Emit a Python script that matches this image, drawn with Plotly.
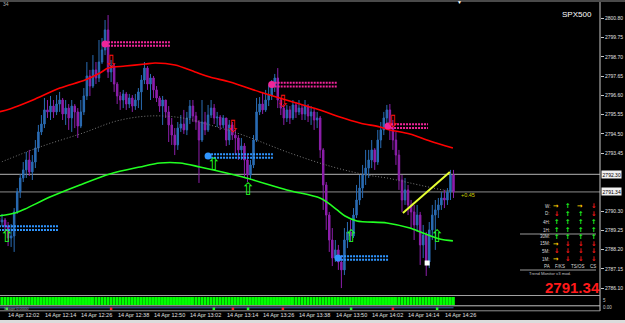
import plotly.graph_objects as go

W, H = 625, 323

# ---------------- data ----------------
bar_idx = list(range(151))  # 1-minute bars, 11:59 .. 14:29

tick_bars = [3, 15, 27, 39, 51, 63, 75, 87, 99, 111, 123, 135, 147]
tick_labels = ["14 Apr 12:02", "14 Apr 12:14", "14 Apr 12:26", "14 Apr 12:38", "14 Apr 12:50",
               "14 Apr 13:02", "14 Apr 13:14", "14 Apr 13:26", "14 Apr 13:38", "14 Apr 13:50",
               "14 Apr 14:02", "14 Apr 14:14", "14 Apr 14:26"]

ytick_vals = [2800.80, 2799.75, 2798.70, 2797.65, 2796.60, 2795.55, 2794.50, 2793.45,
              2790.30, 2789.25, 2788.20, 2787.15, 2786.10]

closes = [2789.70, 2789.81, 2789.48, 2788.83, 2788.94, 2790.25, 2791.34, 2792.10, 2792.54, 2793.08,
          2792.43, 2792.97, 2793.73, 2794.61, 2795.04, 2795.81, 2795.70, 2796.02, 2795.70, 2796.13,
          2796.35, 2795.59, 2795.91, 2795.37, 2796.02, 2795.70, 2794.93, 2795.70, 2796.57, 2797.66,
          2797.11, 2797.99, 2797.55, 2798.42, 2799.08, 2800.17, 2797.88, 2798.20, 2797.22, 2796.57,
          2796.35, 2796.68, 2796.13, 2796.46, 2796.02, 2796.35, 2796.79, 2797.44, 2798.09, 2797.22,
          2797.55, 2796.90, 2796.46, 2796.02, 2796.35, 2795.70, 2794.99, 2794.44, 2793.90, 2794.82,
          2795.04, 2794.72, 2795.37, 2796.02, 2795.48, 2795.15, 2794.17, 2795.15, 2794.72, 2795.53,
          2795.91, 2795.37, 2795.42, 2794.99, 2795.37, 2794.17, 2794.99, 2794.44, 2794.28, 2793.63,
          2793.84, 2793.08, 2792.26, 2792.81, 2794.17, 2795.70, 2796.13, 2795.81, 2796.35, 2796.62,
          2797.11, 2797.55, 2796.35, 2795.91, 2795.37, 2795.81, 2795.37, 2796.08, 2795.70, 2795.91,
          2795.59, 2796.02, 2795.48, 2795.70, 2795.26, 2795.37, 2793.63, 2791.72, 2790.08, 2788.72,
          2787.74, 2788.18, 2787.52, 2787.09, 2788.72, 2789.16, 2788.94, 2790.08, 2790.90, 2791.55,
          2792.26, 2792.64, 2793.08, 2793.63, 2792.97, 2794.17, 2794.72, 2795.37, 2795.81, 2794.82,
          2794.17, 2793.35, 2791.99, 2790.90, 2791.45, 2790.63, 2790.25, 2789.54, 2790.08, 2788.45,
          2788.99, 2787.52, 2789.27, 2790.08, 2790.36, 2790.63, 2791.01, 2790.90, 2791.34, 2792.26,
          2791.34]

opens = [2789.92, 2789.70, 2789.81, 2789.48, 2788.83, 2788.94, 2790.25, 2791.34, 2792.10, 2792.54,
         2793.08, 2792.43, 2792.97, 2793.73, 2794.61, 2795.04, 2795.81, 2795.70, 2796.02, 2795.70,
         2796.13, 2796.35, 2795.59, 2795.91, 2795.37, 2796.02, 2795.70, 2794.93, 2795.70, 2796.57,
         2797.66, 2797.11, 2797.99, 2797.55, 2798.42, 2799.08, 2800.17, 2797.88, 2798.20, 2797.22,
         2796.57, 2796.35, 2796.68, 2796.13, 2796.46, 2796.02, 2796.35, 2796.79, 2797.44, 2798.09,
         2797.22, 2797.55, 2796.90, 2796.46, 2796.02, 2796.35, 2795.70, 2794.99, 2794.44, 2793.90,
         2794.82, 2795.04, 2794.72, 2795.37, 2796.02, 2795.48, 2795.15, 2794.17, 2795.15, 2794.72,
         2795.53, 2795.91, 2795.37, 2795.42, 2794.99, 2795.37, 2794.17, 2794.99, 2794.44, 2794.28,
         2793.63, 2793.84, 2793.08, 2792.26, 2792.81, 2794.17, 2795.70, 2796.13, 2795.81, 2796.35,
         2796.62, 2797.11, 2797.55, 2796.35, 2795.91, 2795.37, 2795.81, 2795.37, 2796.08, 2795.70,
         2795.91, 2795.59, 2796.02, 2795.48, 2795.70, 2795.26, 2795.37, 2793.63, 2791.72, 2790.08,
         2788.72, 2787.74, 2788.18, 2787.52, 2787.09, 2788.72, 2789.16, 2788.94, 2790.08, 2790.90,
         2791.55, 2792.26, 2792.64, 2793.08, 2793.63, 2792.97, 2794.17, 2794.72, 2795.37, 2795.81,
         2794.82, 2794.17, 2793.35, 2791.99, 2790.90, 2791.45, 2790.63, 2790.25, 2789.54, 2790.08,
         2788.45, 2788.99, 2787.52, 2789.27, 2790.08, 2790.36, 2790.63, 2791.01, 2790.90, 2791.34,
         2792.26]

highs = [2790.03, 2790.14, 2789.92, 2789.70, 2789.59, 2790.46, 2791.55, 2792.32, 2792.97, 2793.52,
         2793.63, 2793.35, 2794.17, 2794.99, 2795.53, 2796.46, 2796.35, 2796.57, 2796.35, 2796.62,
         2796.79, 2796.46, 2796.35, 2796.13, 2796.35, 2796.13, 2795.91, 2796.35, 2797.00, 2798.42,
         2797.99, 2798.80, 2798.42, 2799.62, 2799.73, 2800.71, 2800.98, 2798.53, 2798.31, 2797.33,
         2796.79, 2796.90, 2796.79, 2796.68, 2796.62, 2796.68, 2797.00, 2797.71, 2798.42, 2798.20,
         2797.77, 2797.66, 2797.11, 2796.57, 2796.57, 2796.35, 2796.02, 2795.37, 2794.82, 2795.15,
         2795.53, 2795.81, 2795.70, 2796.35, 2796.35, 2795.70, 2795.26, 2796.35, 2795.70, 2796.08,
         2796.35, 2796.13, 2795.70, 2795.53, 2795.53, 2795.37, 2795.26, 2795.15, 2794.72, 2794.44,
         2794.28, 2794.00, 2793.35, 2793.08, 2794.44, 2796.46, 2796.51, 2796.79, 2796.90, 2797.17,
         2797.44, 2797.77, 2798.09, 2796.46, 2796.13, 2796.08, 2796.02, 2796.35, 2796.24, 2796.35,
         2796.13, 2796.35, 2796.13, 2796.02, 2795.91, 2795.70, 2795.48, 2793.73, 2791.88, 2790.25,
         2789.37, 2788.72, 2788.45, 2787.90, 2789.37, 2789.70, 2789.81, 2790.46, 2791.72, 2792.26,
         2792.81, 2793.63, 2793.63, 2794.17, 2793.73, 2794.72, 2795.15, 2795.70, 2796.08, 2796.13,
         2795.26, 2794.61, 2793.63, 2792.26, 2792.10, 2791.72, 2790.90, 2790.63, 2790.63, 2790.25,
         2789.54, 2789.16, 2789.70, 2790.63, 2790.90, 2791.01, 2791.34, 2791.45, 2791.55, 2792.54,
         2792.54]

lows = [2789.27, 2789.48, 2789.16, 2788.39, 2788.34, 2788.07, 2790.14, 2791.01, 2791.88, 2792.10,
        2792.21, 2791.99, 2792.64, 2793.52, 2794.44, 2794.82, 2795.37, 2795.26, 2795.37, 2795.53,
        2795.70, 2795.26, 2794.99, 2794.72, 2794.61, 2794.82, 2794.28, 2794.82, 2795.53, 2796.35,
        2796.57, 2797.00, 2797.22, 2797.33, 2798.31, 2798.80, 2797.55, 2797.33, 2796.79, 2796.13,
        2795.81, 2795.91, 2795.81, 2795.91, 2795.70, 2795.81, 2795.91, 2795.81, 2797.22, 2796.90,
        2796.35, 2796.46, 2796.24, 2795.70, 2794.99, 2795.37, 2794.06, 2793.90, 2793.35, 2793.63,
        2794.61, 2794.50, 2794.44, 2795.04, 2795.15, 2794.72, 2791.83, 2794.06, 2794.44, 2794.61,
        2795.37, 2795.04, 2794.88, 2794.72, 2794.82, 2793.84, 2793.90, 2794.17, 2793.35, 2793.08,
        2793.08, 2792.10, 2791.88, 2791.99, 2792.64, 2794.06, 2795.53, 2795.59, 2795.70, 2796.02,
        2796.35, 2796.79, 2795.91, 2795.53, 2794.99, 2795.15, 2795.04, 2795.26, 2795.37, 2795.53,
        2795.26, 2795.26, 2795.15, 2794.99, 2794.72, 2794.82, 2793.19, 2790.36, 2789.27, 2788.07,
        2787.30, 2787.52, 2787.09, 2786.10, 2786.81, 2788.28, 2788.61, 2788.83, 2789.92, 2790.63,
        2791.01, 2791.72, 2792.10, 2792.64, 2792.54, 2792.81, 2793.73, 2794.44, 2794.82, 2794.17,
        2793.63, 2792.81, 2791.45, 2790.25, 2790.63, 2790.08, 2789.37, 2788.72, 2789.16, 2787.36,
        2787.74, 2786.76, 2787.19, 2788.72, 2788.18, 2789.92, 2790.36, 2790.46, 2790.63, 2790.90,
        2791.01]

# moving averages (sampled points along the drawn curves)
red_ma_x = [0, 3.6, 11.2, 20.1, 28.4, 33.3, 36, 41.6, 48.2, 51.5, 58.1, 64.7, 69.6, 76.2, 86.1,
            93.7, 99.3, 105.9, 112.5, 119.1, 125.7, 129, 135.6, 142.2, 149.8]
red_ma_y = [2795.70, 2795.86, 2796.35, 2797.00, 2797.44, 2797.82, 2798.09, 2798.20, 2798.31, 2798.37,
            2798.26, 2797.88, 2797.60, 2797.33, 2796.79, 2796.40, 2796.13, 2795.81, 2795.42, 2795.10,
            2794.88, 2794.72, 2794.50, 2794.12, 2793.73]
green_ma_x = [0, 5.3, 8.6, 16.8, 26.7, 36.6, 46.5, 53.1, 59.7, 66.3, 80.5, 95, 105.9, 108.6, 111.6,
              114.2, 118.1, 128, 135.6, 139.9, 145.5, 149.8]
green_ma_y = [2790.03, 2790.19, 2790.41, 2791.06, 2791.72, 2792.32, 2792.70, 2792.92, 2792.92, 2792.70,
              2792.15, 2791.45, 2791.01, 2790.74, 2790.36, 2790.03, 2789.76, 2789.65, 2789.37, 2789.10,
              2788.77, 2788.67]
gray_ma_x = [0, 13.5, 27.7, 38.9, 49.8, 60.7, 69.6, 80.5, 96, 110.2, 121.5, 128, 135.6, 146.5, 149.8]
gray_ma_y = [2792.92, 2793.79, 2794.55, 2795.21, 2795.48, 2795.37, 2794.99, 2794.44, 2793.46, 2792.70,
             2792.26, 2792.10, 2791.83, 2791.45, 2791.39]

bid_price = 2791.34
level_price = 2792.30
trend_x = [133.3, 148.8]
trend_y = [2790.19, 2792.43]

red_arrow_x = [37, 77.2, 93.7, 130]
red_arrow_y = [2798.37, 2794.82, 2796.19, 2795.10]
green_arrow_x = [2.6, 70.9, 82.2, 116.2, 144.6]
green_arrow_y = [2788.83, 2792.75, 2791.39, 2788.83, 2788.83]

mag_start = [35, 90, 128.4]
mag_end = [56.4, 111.6, 141.6]
mag_price = [2799.40, 2797.19, 2794.93]
blue_start = [-1, 69, 111.9]
blue_end = [19.5, 90.4, 128.4]
blue_price = [2789.37, 2793.30, 2787.74]

marker_sq_x = [141.3]
marker_sq_y = [2787.47]

green_ind = [1] * 151

sig_rows = ["W:", "D:", "4H:", "1H:", "30M:", "15M:", "5M:", "1M:"]
sig_cols = ["PA", "F/KS", "TS/OS", "CS"]
signals = [["R", "U", "R", "D"],
           ["D", "U", "U", "D"],
           ["U", "U", "U", "U"],
           ["U", "U", "U", "U"],
           ["U", "U", "U", "U"],
           ["R", "D", "D", "D"],
           ["D", "D", "D", "D"],
           ["R", "D", "D", "D"]]

# ---------------- layout helpers ----------------
def py(p):
    return 1 - p / H

def pxp(p):
    return p / W

FONT = "Liberation Sans"

def note(x, y, text, size=5, color="#d8d8d8", xanchor="center", yanchor="middle", **kw):
    d = dict(x=pxp(x), y=py(y), xref="paper", yref="paper", text=text, showarrow=False,
             font=dict(size=size, color=color, family=FONT), xanchor=xanchor, yanchor=yanchor,
             borderpad=0)
    d.update(kw)
    return d

fig = go.Figure()

fig.add_trace(go.Candlestick(
    x=bar_idx, open=opens, high=highs, low=lows, close=closes,
    increasing=dict(line=dict(color="#2a6cb4", width=1), fillcolor="#2a6cb4"),
    decreasing=dict(line=dict(color="#8e1fac", width=1), fillcolor="#8e1fac"),
    whiskerwidth=0, xaxis="x", yaxis="y", hoverinfo="skip"))

fig.add_trace(go.Scatter(x=gray_ma_x, y=gray_ma_y, mode="lines",
                         line=dict(color="#7a7a7a", width=1, dash="1px,2px", shape="spline"),
                         xaxis="x", yaxis="y"))
fig.add_trace(go.Scatter(x=red_ma_x, y=red_ma_y, mode="lines",
                         line=dict(color="#ff0000", width=1.6, shape="spline", smoothing=0.8),
                         xaxis="x", yaxis="y"))
fig.add_trace(go.Scatter(x=green_ma_x, y=green_ma_y, mode="lines",
                         line=dict(color="#22ff22", width=1.6, shape="spline", smoothing=0.8),
                         xaxis="x", yaxis="y"))
fig.add_trace(go.Scatter(x=trend_x, y=trend_y, mode="lines",
                         line=dict(color="#e6ff33", width=2), xaxis="x", yaxis="y"))

# hatched support/resistance marks
off = 0.1
for s, e, p in zip(mag_start, mag_end, mag_price):
    for d in (-off, off):
        fig.add_trace(go.Scatter(x=[s, e], y=[p + d, p + d], mode="lines",
                                 line=dict(color="#f0259a", width=2, dash="2px,1px")))
fig.add_trace(go.Scatter(x=mag_start, y=mag_price, mode="markers",
                         marker=dict(color="#f0259a", size=7)))
for s, e, p in zip(blue_start, blue_end, blue_price):
    for d in (-off, off):
        fig.add_trace(go.Scatter(x=[s, e], y=[p + d, p + d], mode="lines",
                                 line=dict(color="#2f95ff", width=2, dash="2px,1px")))
fig.add_trace(go.Scatter(x=blue_start, y=blue_price, mode="markers",
                         marker=dict(color="#2f95ff", size=7)))

fig.add_trace(go.Scatter(x=red_arrow_x, y=red_arrow_y, mode="text",
                         text=["\u21e9"] * len(red_arrow_x),
                         textfont=dict(color="#ff1010", size=17, family="DejaVu Sans")))
fig.add_trace(go.Scatter(x=green_arrow_x, y=green_arrow_y, mode="text",
                         text=["\u21e7"] * len(green_arrow_x), cliponaxis=False,
                         textfont=dict(color="#22ff22", size=17, family="DejaVu Sans")))
fig.add_trace(go.Scatter(x=marker_sq_x, y=marker_sq_y, mode="markers",
                         marker=dict(symbol="square", color="#ffffff", size=5)))

# indicator sub-window (green bars)
fig.add_trace(go.Bar(x=bar_idx, y=green_ind, marker=dict(color="#00ff00", line=dict(width=0)),
                     width=0.62, xaxis="x", yaxis="y2"))
# lower thin sub-window
fig.add_trace(go.Scatter(x=[0, 150], y=[0.6, 0.6], mode="lines",
                         line=dict(color="#3a6ea8", width=1), xaxis="x", yaxis="y3"))
fig.add_trace(go.Scatter(x=red_arrow_x, y=[0.35] * len(red_arrow_x), mode="markers",
                         marker=dict(color="#ff2020", size=2.5, symbol="square"), xaxis="x", yaxis="y3"))
fig.add_trace(go.Scatter(x=green_arrow_x, y=[0.35] * len(green_arrow_x), mode="markers",
                         marker=dict(color="#20ff20", size=2.5, symbol="square"), xaxis="x", yaxis="y3"))

main_top, main_bot = 2, 294.5
y_hi = 2801.80 - 0.0545 * main_top
y_lo = 2801.80 - 0.0545 * main_bot
x_dom = 600 / W

shapes = [
    dict(type="rect", xref="paper", yref="paper", x0=0, x1=1, y0=py(2), y1=1,
         fillcolor="#4a4a4a", line=dict(width=0), layer="above"),
    dict(type="line", xref="paper", yref="paper", x0=x_dom, x1=x_dom, y0=py(311), y1=py(2),
         line=dict(color="#c8c8c8", width=1)),
    dict(type="line", xref="paper", yref="y", x0=0, x1=x_dom, y0=level_price, y1=level_price,
         line=dict(color="#b4b4b4", width=1), layer="below"),
    dict(type="line", xref="paper", yref="y", x0=0, x1=x_dom, y0=bid_price, y1=bid_price,
         line=dict(color="#8c8c8c", width=1), layer="below"),
    dict(type="line", xref="paper", yref="paper", x0=0, x1=x_dom, y0=py(295.5), y1=py(295.5),
         line=dict(color="#a0a0a0", width=1)),
    dict(type="line", xref="paper", yref="paper", x0=0, x1=x_dom, y0=py(305.8), y1=py(305.8),
         line=dict(color="#c0c0c0", width=1)),
    dict(type="line", xref="paper", yref="paper", x0=0, x1=x_dom, y0=py(310.8), y1=py(310.8),
         line=dict(color="#909090", width=1)),
    dict(type="rect", xref="x", yref="y2 domain", x0=-0.5, x1=150.5, y0=0, y1=1,
         fillcolor="#00a000", line=dict(width=0), layer="below"),
    dict(type="line", xref="paper", yref="paper", x0=pxp(520), x1=pxp(596), y0=py(234), y1=py(234),
         line=dict(color="#9a9a9a", width=1)),
    dict(type="line", xref="paper", yref="paper", x0=pxp(520), x1=pxp(596), y0=py(270), y1=py(270),
         line=dict(color="#9a9a9a", width=1)),
    dict(type="rect", xref="paper", yref="paper", x0=0, x1=1, y0=0, y1=py(320),
         fillcolor="#dcdcdc", line=dict(width=0)),
]

ann = []
for b, t in zip(tick_bars, tick_labels):
    ann.append(dict(x=b - 0.2, y=py(315), xref="x", yref="paper", text=t, showarrow=False,
                    font=dict(size=5.5, color="#e0e0e0", family=FONT), xanchor="left",
                    yanchor="middle", borderpad=0))
for p in (level_price, bid_price):
    ann.append(dict(x=pxp(600.5), y=p, xref="paper", yref="y", text=f"{p:.2f}", showarrow=False,
                    font=dict(size=5, color="#000000", family=FONT), xanchor="left",
                    yanchor="middle", bgcolor="#f0f0f0", borderpad=0.6))
ann.append(note(577, 14, "SPX500", size=8, color="#ffffff"))
ann.append(note(572, 287, "<b>2791.34</b>", size=15, color="#ff1a1a"))
ann.append(note(468, 195, "+0.45", size=5.5, color="#d0d000"))
ann.append(note(2, 4, "34", size=5, color="#b0b0b0", xanchor="left"))
ann.append(note(459, 2.5, "\u25bc", size=5, color="#ffffff"))
ann.append(note(3, 308, "Image 0.0000", size=4, color="#a0a0a0", xanchor="left"))
ann.append(note(602, 300.5, "5", size=4.5, color="#c8c8c8", xanchor="left"))
ann.append(note(602, 307, "0.00", size=4.5, color="#c8c8c8", xanchor="left"))

row_y = [206, 213.5, 222, 230, 236.8, 243.5, 251.2, 259.3]
col_x = [556, 567.5, 580, 593]
glyph = {"U": ("\u2191", "#22ff22"), "D": ("\u2193", "#ff1a1a"), "R": ("\u2192", "#ffd000")}
for r, lab in enumerate(sig_rows):
    ann.append(note(551, row_y[r], lab, size=4.5, color="#d8d8d8", xanchor="right"))
    for c in range(4):
        g, col = glyph[signals[r][c]]
        ann.append(dict(x=pxp(col_x[c]), y=py(row_y[r]), xref="paper", yref="paper",
                        text=f"<b>{g}</b>", showarrow=False,
                        font=dict(size=6.5, color=col, family="DejaVu Sans"),
                        xanchor="center", yanchor="middle", borderpad=0))
foot_x = [547, 560, 578, 593]
for c, lab in enumerate(sig_cols):
    ann.append(note(foot_x[c], 266.3, lab, size=4.5, color="#d8d8d8"))
ann.append(note(550, 273.5, "Trend Monitor v3 mod.", size=4.2, color="#c0c0c0"))

fig.update_layout(
    width=W, height=H, margin=dict(l=0, r=0, t=0, b=0),
    paper_bgcolor="#000000", plot_bgcolor="#000000", showlegend=False,
    xaxis=dict(domain=[0, x_dom], range=[0.33, 198.35], showticklabels=False, showgrid=False,
               zeroline=False, showline=False, ticks="", rangeslider=dict(visible=False),
               fixedrange=True),
    yaxis=dict(domain=[py(main_bot), py(main_top)], range=[y_lo, y_hi], side="right",
               anchor="x", showgrid=False, zeroline=False, showline=False,
               tickvals=ytick_vals, ticktext=[f"{v:.2f}" for v in ytick_vals],
               ticks="outside", ticklen=3, tickcolor="#c8c8c8", tickwidth=1,
               tickfont=dict(size=5, color="#e0e0e0", family=FONT)),
    yaxis2=dict(domain=[py(305), py(297)], range=[0, 1], visible=False, anchor="x"),
    yaxis3=dict(domain=[py(310), py(306.3)], range=[0, 1], visible=False, anchor="x"),
    shapes=shapes, annotations=ann,
)

fig.write_html("out.html")
